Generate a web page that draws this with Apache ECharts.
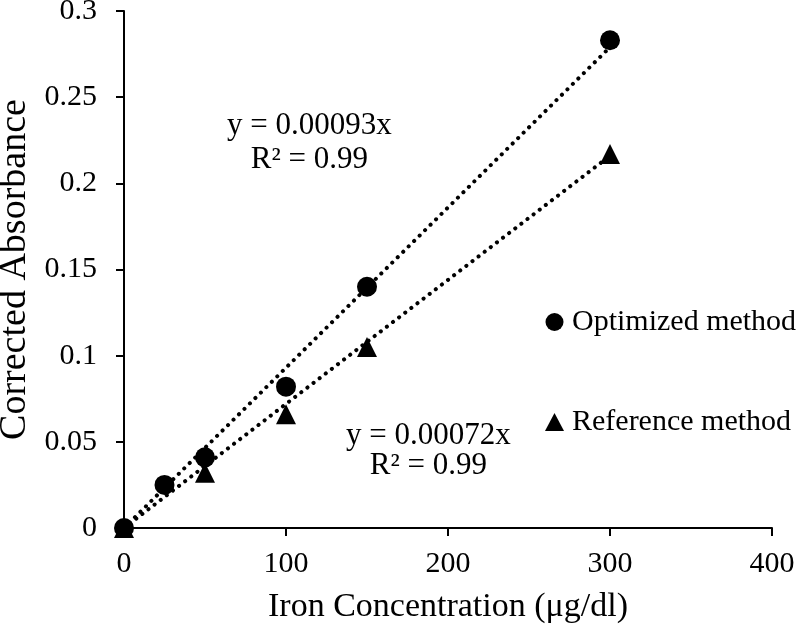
<!DOCTYPE html>
<html><head><meta charset="utf-8">
<script src="https://cdn.jsdelivr.net/npm/echarts@6/dist/echarts.min.js"></script>
<style>html,body{margin:0;padding:0;background:#fff}#c{width:801px;height:624px}</style>
</head><body><div id="c"></div>
<script>
const optX = [0, 25, 50, 100, 150, 300];
const optY = [0, 0.025, 0.041, 0.082, 0.14, 0.283];
const refX = [0, 50, 100, 150, 300];
const refY = [0, 0.032, 0.066, 0.105, 0.217];
const optSlope = 0.00093;
const refSlope = 0.00072;
const trendRange = [0, 300];
const seriesNames = ['Optimized method', 'Reference method'];
const eqLabels = [['y = 0.00093x', 'R² = 0.99'], ['y = 0.00072x', 'R² = 0.99']];

const font = 'Liberation Serif';
const chart = echarts.init(document.getElementById('c'));
const pts = (xs, ys) => xs.map((x, i) => [x, ys[i]]);
const trend = s => trendRange.map(x => [x, s * x]);
const dotted = { color: '#000', width: 4, type: [0.1, 7.6], cap: 'round' };

chart.setOption({
  animation: false,
  grid: { left: 124, right: 29, top: 11, bottom: 96, containLabel: false, outerBoundsMode: 'none' },
  xAxis: {
    type: 'value', min: 0, max: 400, interval: 100,
    name: 'Iron Concentration (μg/dl)', nameLocation: 'middle', nameGap: 62,
    nameTextStyle: { fontFamily: font, fontSize: 34, color: '#000' },
    axisLine: { lineStyle: { color: '#000', width: 2 } },
    axisTick: { length: 8, lineStyle: { color: '#000', width: 2 } },
    axisLabel: { fontFamily: font, fontSize: 30, color: '#000', margin: 21 },
    splitLine: { show: false }
  },
  yAxis: {
    type: 'value', min: 0, max: 0.3, interval: 0.05,
    name: 'Corrected Absorbance', nameLocation: 'middle', nameGap: 73,
    nameTextStyle: { fontFamily: font, fontSize: 38, color: '#000' },
    axisLine: { show: true, lineStyle: { color: '#000', width: 2 } },
    axisTick: { show: true, length: 8, lineStyle: { color: '#000', width: 2 } },
    axisLabel: { fontFamily: font, fontSize: 30, color: '#000', margin: 27 },
    splitLine: { show: false }
  },
  legend: {
    orient: 'vertical', left: 540, top: 302, itemGap: 70,
    itemWidth: 19, itemHeight: 18, selectedMode: false,
    textStyle: { fontFamily: font, fontSize: 30, color: '#000', padding: [0, 0, 0, 3] },
    data: [{ name: seriesNames[0], icon: 'circle' }, { name: seriesNames[1], icon: 'triangle' }]
  },
  graphic: [
    { type: 'text', left: 227, top: 109, style: { text: eqLabels[0].join('\n'), font: '31px "Liberation Serif"', fill: '#000', textAlign: 'center', lineHeight: 34 } },
    { type: 'text', left: 346, top: 420, style: { text: eqLabels[1].join('\n'), font: '31px "Liberation Serif"', fill: '#000', textAlign: 'center', lineHeight: 30 } }
  ],
  series: [
    { type: 'line', data: trend(refSlope), symbol: 'none', lineStyle: dotted, silent: true, z: 2 },
    { type: 'line', data: trend(optSlope), symbol: 'none', lineStyle: dotted, silent: true, z: 2 },
    { name: seriesNames[1], type: 'scatter', data: pts(refX, refY), symbol: 'triangle', symbolSize: 20, itemStyle: { color: '#000', opacity: 1 }, z: 3 },
    { name: seriesNames[0], type: 'scatter', data: pts(optX, optY), symbol: 'circle', symbolSize: 20, itemStyle: { color: '#000', opacity: 1 }, z: 4 }
  ]
});
</script></body></html>
